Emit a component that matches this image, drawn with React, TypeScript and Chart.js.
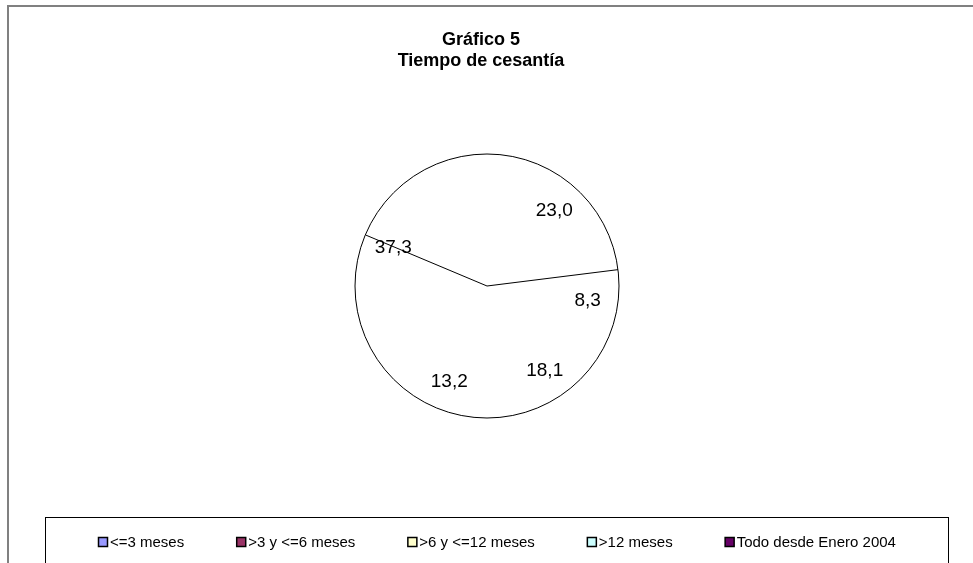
import React, { useEffect, useRef } from "react";
import { Chart, registerables } from "chart.js";

Chart.register(...registerables);

const titleLines = ["Gráfico 5", "Tiempo de cesantía"];
const categories = ["<=3 meses", ">3 y <=6 meses", ">6 y <=12 meses", ">12 meses", "Todo desde Enero 2004"];
const values = [23.0, 8.3, 18.1, 13.2, 37.3];
const legendColors = ["#9999FF", "#993366", "#FFFFCC", "#CCFFFF", "#660066"];

const FONT = '"Liberation Sans", Arial, sans-serif';
const W = 973;
const H = 563;

const fmt = (v: number) => v.toFixed(1).replace(".", ",");

const decorPlugin = {
  id: "decor",
  beforeDraw(chart: any) {
    const ctx = chart.ctx;
    ctx.save();
    ctx.fillStyle = "#ffffff";
    ctx.fillRect(0, 0, W, H);
    // outer chart border (gray)
    ctx.strokeStyle = "#808080";
    ctx.lineWidth = 2;
    ctx.strokeRect(8, 6, W + 20, H + 20);
    // title
    ctx.fillStyle = "#000";
    ctx.font = `bold 18px ${FONT}`;
    ctx.textAlign = "center";
    ctx.textBaseline = "middle";
    ctx.fillText(titleLines[0], 481, 40);
    ctx.fillText(titleLines[1], 481, 61);
    // legend box
    ctx.strokeStyle = "#000";
    ctx.lineWidth = 1;
    ctx.strokeRect(45.5, 517.5, 903, 100);
    // legend items
    ctx.font = `15px ${FONT}`;
    ctx.textAlign = "left";
    const box = 9;
    const boxGap = 3;
    const itemGap = 52;
    const widths = categories.map((c) => ctx.measureText(c).width);
    const total = widths.reduce((a, w) => a + w + box + boxGap, 0) + itemGap * (categories.length - 1);
    let x = Math.round(496.5 - total / 2);
    const cy = 542;
    categories.forEach((c, i) => {
      ctx.fillStyle = legendColors[i];
      ctx.fillRect(x + 0.5, cy - 4.5, box, box);
      ctx.strokeStyle = "#000";
      ctx.lineWidth = 1.5;
      ctx.strokeRect(x + 0.5, cy - 4.5, box, box);
      ctx.fillStyle = "#000";
      ctx.fillText(c, x + box + boxGap, cy + 1);
      x += box + boxGap + widths[i] + itemGap;
    });
    ctx.restore();
  },
  afterDatasetsDraw(chart: any) {
    const ctx = chart.ctx;
    const arcs = chart.getDatasetMeta(0).data;
    if (!arcs.length) return;
    const a0 = arcs[0];
    const cx = a0.x;
    const cy = a0.y;
    const r = a0.outerRadius;
    ctx.save();
    ctx.strokeStyle = "#000";
    ctx.lineWidth = 1;
    ctx.beginPath();
    ctx.arc(cx, cy, r, 0, Math.PI * 2);
    ctx.stroke();
    // visible radial lines
    const last = arcs[arcs.length - 1];
    const angles = [a0.endAngle, (last.startAngle + last.endAngle) / 2];
    angles.forEach((ang: number) => {
      ctx.beginPath();
      ctx.moveTo(cx, cy);
      ctx.lineTo(cx + Math.cos(ang) * r, cy + Math.sin(ang) * r);
      ctx.stroke();
    });
    // data labels
    ctx.fillStyle = "#000";
    ctx.font = `19px ${FONT}`;
    ctx.textAlign = "center";
    ctx.textBaseline = "middle";
    arcs.forEach((arc: any, i: number) => {
      const mid = (arc.startAngle + arc.endAngle) / 2;
      const lr = r * 0.77;
      ctx.fillText(fmt(values[i]), cx + Math.cos(mid) * lr, cy + Math.sin(mid) * lr + 1);
    });
    ctx.restore();
  },
};

export default function App() {
  const ref = useRef<HTMLCanvasElement>(null);
  useEffect(() => {
    if (!ref.current) return;
    const chart = new Chart(ref.current, {
      type: "pie",
      data: {
        labels: categories,
        datasets: [
          {
            data: values,
            backgroundColor: "#ffffff",
            borderWidth: 0,
          },
        ],
      },
      options: {
        responsive: false,
        animation: false,
        layout: { padding: { left: 355, right: 354, top: 154, bottom: 145 } },
        plugins: {
          legend: { display: false },
          tooltip: { enabled: false },
          title: { display: false },
        },
      },
      plugins: [decorPlugin],
    });
    return () => chart.destroy();
  }, []);
  return (
    <div style={{ position: "absolute", left: 0, top: 0, width: W, height: H, background: "#fff" }}>
      <canvas ref={ref} width={W} height={H} style={{ display: "block" }} />
    </div>
  );
}
